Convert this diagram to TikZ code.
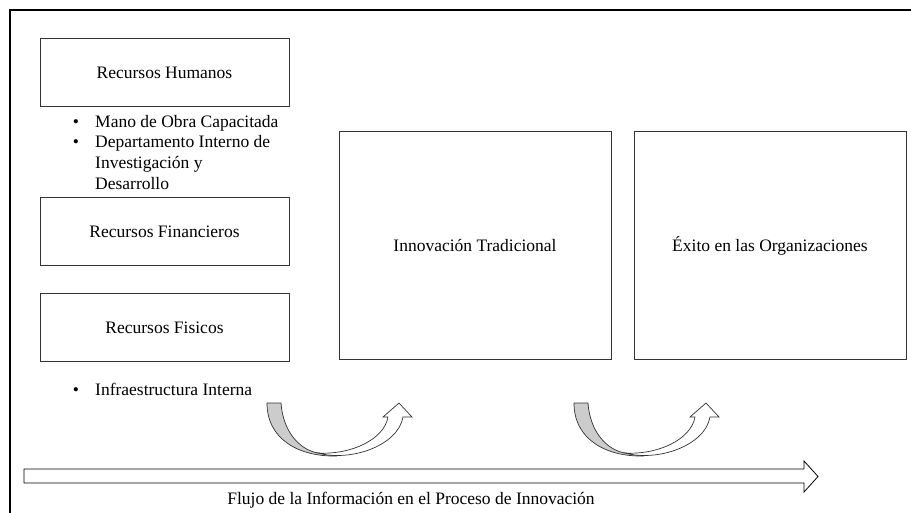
\documentclass[tikz,border=0pt]{standalone}
\usepackage{fontspec}
\setmainfont{Liberation Serif}
\colorlet{lcol}{black!80}
\colorlet{tailcol}{black!20}
\tikzstyle{box}=[draw=lcol, line width=1pt, inner sep=0pt, font=\fontsize{17.5}{20.5}\selectfont]
\tikzstyle{resbox}=[box, minimum width=249pt, minimum height=68pt]
\tikzstyle{bigbox}=[box, minimum width=272pt, minimum height=227pt]
\tikzstyle{txt}=[inner sep=0pt, anchor=base west, font=\fontsize{17.5}{20.5}\selectfont]
\tikzstyle{bul}=[inner sep=0pt, anchor=base, font=\fontsize{17.5}{20.5}\selectfont]
\tikzstyle{flow}=[draw=black, line width=0.8pt, fill=white, line join=miter]
\tikzstyle{tail}=[draw=lcol, line width=0.7pt, fill=tailcol]
\tikzstyle{front}=[draw=lcol, line width=0.7pt, fill=white, line join=miter]

\begin{document}
\begin{tikzpicture}[x=1pt, y=-1pt]
	\useasboundingbox (0,0) rectangle (911,513);
	%%% Frame
	\coordinate (fbl) at (10,513);
	\coordinate (ftl) at (10,10);
	\coordinate (ftr) at (911,10);
	\draw[line width=2pt] (fbl) -- (ftl) -- (ftr);

	%%% Resources
	\node[resbox] (hum) at (164.5, 73.0)  {Recursos Humanos};
	\node[resbox] (fin) at (164.5, 231.5) {Recursos Financieros};
	\node[resbox] (fis) at (164.5, 327.5) {Recursos Fisicos};

	% Bullets
	\node[bul] (b1) at (76, 128) {\textbullet};
	\node[txt] (t1) at (95, 128) {Mano de Obra Capacitada};
	\node[bul] (b2) at (76, 148) {\textbullet};
	\node[txt] (t2) at (95, 148) {Departamento Interno de};
	\node[txt] (t3) at (95, 169) {Investigación y};
	\node[txt] (t4) at (95, 190) {Desarrollo};
	\node[bul] (b3) at (76, 395) {\textbullet};
	\node[txt] (t5) at (95, 395) {Infraestructura Interna};

	%%% Center and right
	\node[bigbox] (inn) at (475, 245.5) {Innovación Tradicional};
	\node[bigbox] (exi) at (770, 245.5) {Éxito en las Organizaciones};

	%%% Curved arrows
	\begin{scope}
		\path[tail] (267,403) -- (281,403) .. controls (283,432) and (300,450) .. (318,453)
			-- (337,456) .. controls (300,457) and (267,440) .. (267,403) -- cycle;
		\path[front] (318,453) .. controls (350,462) and (398,446) .. (403,417)
			-- (412,417) -- (399,403) -- (383,417) -- (388,417)
			.. controls (384,440) and (350,455) .. (318,453) -- cycle;
	\end{scope}
	\begin{scope}[xshift=307pt]
		\path[tail] (267,403) -- (281,403) .. controls (283,432) and (300,450) .. (318,453)
			-- (337,456) .. controls (300,457) and (267,440) .. (267,403) -- cycle;
		\path[front] (318,453) .. controls (350,462) and (398,446) .. (403,417)
			-- (412,417) -- (399,403) -- (383,417) -- (388,417)
			.. controls (384,440) and (350,455) .. (318,453) -- cycle;
	\end{scope}

	%%% Flow arrow
	\path[flow] (24,469) -- (804,469) -- (804,461) -- (818,476.5) -- (804,492)
		-- (804,483) -- (24,483) -- cycle;
	\node[inner sep=0pt, font=\fontsize{17.5}{20.5}\selectfont] (cap) at (411, 500)
		{Flujo de la Información en el Proceso de Innovación};
\end{tikzpicture}
\end{document}
